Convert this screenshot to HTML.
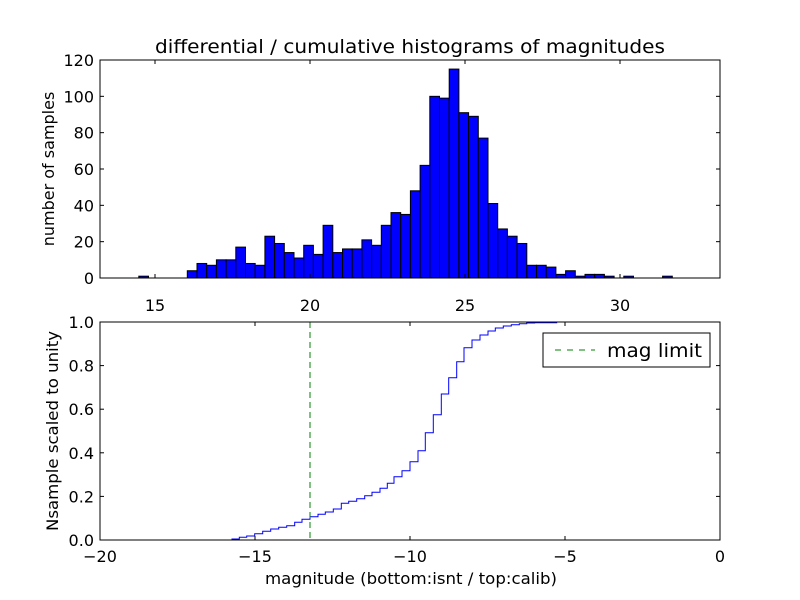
<!DOCTYPE html>
<html><head><style>body{margin:0;background:#fff}svg{display:block}text{font-family:"DejaVu Sans","Liberation Sans",sans-serif;fill:#000}</style></head>
<body>
<svg id="s" width="800" height="600" xmlns="http://www.w3.org/2000/svg"></svg>
<script>
var s=document.getElementById('s'),h='';
h+='<rect width="800" height="600" fill="#fff"/>';
var vals=[4,8,7,10,10,17,8,7,23,19,14,11,18,13,29,14,16,16,21,18,29,36,35,48,62,100,99,115,91,89,77,41,27,23,19,7,7,6,2,4,1,2,2,1,0,1,0,0,0,1];
var x0=187.3,w=9.7,ky=218/120;
var bars=[[138.8,1]];
for(var i=0;i<vals.length;i++)bars.push([x0+i*w,vals[i]]);
bars.forEach(function(b){if(b[1]>0){var hh=b[1]*ky;h+='<rect x="'+b[0]+'" y="'+(278-hh)+'" width="'+w+'" height="'+hh+'" fill="#0000ff" stroke="#000" stroke-width="1"/>';}});
h+='<rect x="100" y="60" width="620" height="218" fill="none" stroke="#000"/>';
for(var t=15;t<=30;t+=5){var x=155+(t-15)*31;h+='<line x1="'+x+'" y1="278" x2="'+x+'" y2="274" stroke="#000"/><line x1="'+x+'" y1="60" x2="'+x+'" y2="64" stroke="#000"/><text x="'+x+'" y="311" font-size="16" text-anchor="middle">'+t+'</text>';}
for(var v=0;v<=120;v+=20){var y=278-v*ky;h+='<line x1="100" y1="'+y+'" x2="104" y2="'+y+'" stroke="#000"/><line x1="720" y1="'+y+'" x2="716" y2="'+y+'" stroke="#000"/><text x="94" y="'+(y+6)+'" font-size="16" text-anchor="end">'+v+'</text>';}
h+='<text x="155" y="53" font-size="19" textLength="510" lengthAdjust="spacingAndGlyphs">differential / cumulative histograms of magnitudes</text>';
h+='<text transform="translate(54,169) rotate(-90)" font-size="16" text-anchor="middle">number of samples</text>';
var zs1=[[96,657],[118,652],[140,648],[164,641],[188,634],[212,627],[236,622],[260,617],[284,607],[306,598],[330,590],[354,583],[376,576],[400,567],[424,550],[446,544],[470,536],[494,527],[516,517],[540,505],[562,490]];
var zs2=[[12,470],[36,452],[60,425],[84,392],[106,338],[130,284],[154,222],[176,173],[200,125],[222,83],[246,60],[270,45],[294,33],[316,24],[340,18],[364,14],[388,11],[410,9],[434,8],[500,6]];
var st=[];zs1.forEach(function(q){st.push([200+q[0]/3,320+q[1]/3])});zs2.forEach(function(q){st.push([390+q[0]/3,320+q[1]/3])});
var pts=[[100,540]],prev=540;
st.forEach(function(q){pts.push([q[0],prev]);pts.push([q[0],q[1]]);prev=q[1];});
pts.push([720,322]);pts.push([720,540]);
h+='<polyline points="'+pts.map(function(q){return q[0].toFixed(1)+','+q[1].toFixed(1)}).join(' ')+'" fill="none" stroke="#0000ff" stroke-width="1"/>';
h+='<line x1="310" y1="322" x2="310" y2="540" stroke="#008000" stroke-dasharray="6,4"/>';
h+='<rect x="100" y="322" width="620" height="218" fill="none" stroke="#000"/>';
for(var t=-20;t<=0;t+=5){var x=720+t*31;h+='<line x1="'+x+'" y1="540" x2="'+x+'" y2="536" stroke="#000"/><line x1="'+x+'" y1="322" x2="'+x+'" y2="326" stroke="#000"/><text x="'+x+'" y="562" font-size="16" text-anchor="middle">'+(t<0?'\u2212'+(-t):t)+'</text>';}
for(var k=0;k<=5;k++){var y=540-k*43.6;h+='<line x1="100" y1="'+y+'" x2="104" y2="'+y+'" stroke="#000"/><line x1="720" y1="'+y+'" x2="716" y2="'+y+'" stroke="#000"/><text x="94" y="'+(y+6)+'" font-size="16" text-anchor="end">'+(k/5).toFixed(1)+'</text>';}
h+='<text x="265" y="584" font-size="16" textLength="292" lengthAdjust="spacingAndGlyphs">magnitude (bottom:isnt / top:calib)</text>';
h+='<text transform="translate(58,531) rotate(-90)" font-size="16" textLength="200" lengthAdjust="spacingAndGlyphs">Nsample scaled to unity</text>';
h+='<rect x="543" y="333" width="167" height="34" fill="#fff" stroke="#000"/>';
h+='<line x1="555" y1="350" x2="595" y2="350" stroke="#008000" stroke-dasharray="6,6"/>';
h+='<text x="607" y="357" font-size="19" textLength="95" lengthAdjust="spacingAndGlyphs">mag limit</text>';
s.innerHTML=h;
</script>
</body></html>
